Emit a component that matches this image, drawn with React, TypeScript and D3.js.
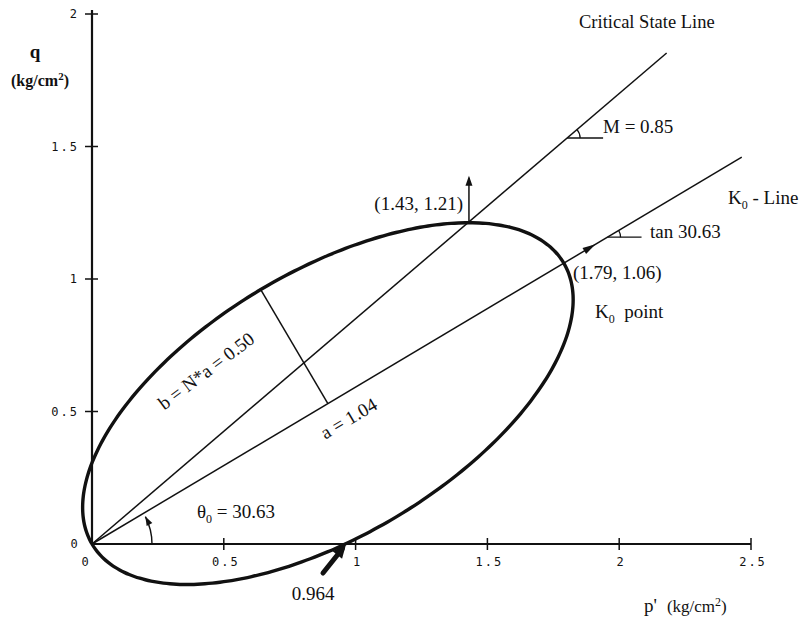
import React from "react";
import * as d3 from "d3";

// values
const xTicks = [0, 0.5, 1, 1.5, 2, 2.5];
const yTicks = [0.5, 1, 1.5, 2];
const theta0 = 30.63; // K0 line angle (deg)
const semiA = 1.04;
const semiB = 0.5;
const slopeM = 0.85;
const topPoint = [1.43, 1.21];
const k0Point = [1.79, 1.06];
const pCross = 0.964;
const cslEnd = 2.18; // p' where CSL stops
const k0End = 2.465; // p' where K0 line stops
const topArrowQ = 1.39;
const k0ArrowP = 1.91;
const cslMarkQ = 1.532;
const k0MarkQ = 1.158;

const W = 800;
const H = 623;

const App = () => {
  const x = d3.scaleLinear().domain([0, 2.5]).range([92, 751]);
  const y = d3.scaleLinear().domain([0, 2]).range([544, 14]);

  const th = (theta0 * Math.PI) / 180;
  const tanT = Math.tan(th);
  const cx = semiA * Math.cos(th);
  const cy = semiA * Math.sin(th);

  // ellipse through the origin, major axis along the K0 line
  const ellPts = d3.range(0, 360, 2).map((deg) => {
    const t = (deg * Math.PI) / 180;
    const u = semiA + semiA * Math.cos(t);
    const v = semiB * Math.sin(t);
    return [u * Math.cos(th) - v * Math.sin(th), u * Math.sin(th) + v * Math.cos(th)];
  });
  const ellLine = d3
    .line()
    .x((d) => x(d[0]))
    .y((d) => y(d[1]))
    .curve(d3.curveCardinalClosed);

  // end of the minor axis
  const bEnd = [cx - semiB * Math.sin(th), cy + semiB * Math.cos(th)];

  const angleArc = (px, py, ang, r) =>
    `M${px + r},${py} A${r},${r} 0 0 0 ${px + r * Math.cos(ang)},${py - r * Math.sin(ang)}`;

  // arrowhead triangle, tip at (tx,ty), pointing along ang (screen coords)
  const head = (tx, ty, ang, len, wid) => {
    const bx = tx - len * Math.cos(ang);
    const by = ty - len * Math.sin(ang);
    const nx = -Math.sin(ang) * wid;
    const ny = Math.cos(ang) * wid;
    return `M${tx},${ty} L${bx + nx},${by + ny} L${bx - nx},${by - ny} Z`;
  };

  // theta0 arc
  const r0 = 60;
  const ox = x(0);
  const oy = y(0);
  const arcEndAng = th - 0.06;
  const ae = [ox + r0 * Math.cos(arcEndAng), oy - r0 * Math.sin(arcEndAng)];
  const arcTangentAng = -(arcEndAng + Math.PI / 2);

  const k0a = [x(k0ArrowP), y(k0ArrowP * tanT)];
  const k0ScreenAng = Math.atan2(y(tanT) - y(0), x(1) - x(0));

  const crossX = x(pCross);
  const thickStart = [323, 573];
  const thickAng = Math.atan2(y(0) - thickStart[1], crossX - thickStart[0]);

  const serif = "'Liberation Serif', 'Times New Roman', serif";
  const tickFont = "'DejaVu Sans Mono', monospace";
  const fs = 19;

  return (
    <svg
      width={W}
      height={H}
      style={{ position: "absolute", left: 0, top: 0, background: "#fff" }}
    >
      {/* axes */}
      <line x1={x(0)} y1={y(0)} x2={x(0)} y2={y(2) - 4} stroke="#111" strokeWidth={2.2} />
      <line x1={x(0)} y1={y(0)} x2={x(2.5)} y2={y(0)} stroke="#111" strokeWidth={2.2} />
      {yTicks.map((t) => (
        <g key={"y" + t}>
          <line x1={x(0) - 7} x2={x(0) + 6} y1={y(t)} y2={y(t)} stroke="#111" strokeWidth={1.5} />
          <text
            x={x(0) - 13}
            y={y(t) + 4}
            textAnchor="end"
            fontFamily={tickFont}
            fontSize={12}
            letterSpacing={2}
            fill="#111"
          >
            {String(t)}
          </text>
        </g>
      ))}
      <text x={74} y={y(0) + 4} textAnchor="middle" fontFamily={tickFont} fontSize={12} fill="#111">0</text>
      {xTicks.map((t) => (
        <g key={"x" + t}>
          {t > 0 && (
            <line x1={x(t)} x2={x(t)} y1={y(0) - 6} y2={y(0) + 6} stroke="#111" strokeWidth={1.5} />
          )}
          <text
            x={t === 0 ? x(0) - 6 : x(t) + 2}
            y={y(0) + 22}
            textAnchor="middle"
            fontFamily={tickFont}
            fontSize={12}
            letterSpacing={2}
            fill="#111"
          >
            {String(t)}
          </text>
        </g>
      ))}

      {/* axis titles */}
      <text x={35} y={58} textAnchor="middle" fontFamily={serif} fontSize={19} fontWeight="bold" fill="#111">q</text>
      <text x={40} y={86} textAnchor="middle" fontFamily={serif} fontSize={16} fontWeight="bold" fill="#111">
        (kg/cm<tspan dy={-6} fontSize={11}>2</tspan><tspan dy={6}>)</tspan>
      </text>
      <text x={644} y={612} fontFamily={serif} fontSize={19} fill="#111">
        p'
        <tspan fontSize={17} dx={10}>(kg/cm</tspan>
        <tspan dy={-6} fontSize={12}>2</tspan>
        <tspan dy={6} fontSize={17}>)</tspan>
      </text>

      {/* critical state line and K0 line */}
      <line x1={x(0)} y1={y(0)} x2={x(cslEnd)} y2={y(cslEnd * slopeM)} stroke="#111" strokeWidth={1.5} />
      <line x1={x(0)} y1={y(0)} x2={x(k0End)} y2={y(k0End * tanT)} stroke="#111" strokeWidth={1.5} />
      <path d={head(k0a[0], k0a[1], k0ScreenAng, 13, 3.5)} fill="#111" />

      {/* minor axis b */}
      <line x1={x(cx)} y1={y(cy)} x2={x(bEnd[0])} y2={y(bEnd[1])} stroke="#111" strokeWidth={1.5} />

      {/* yield ellipse */}
      <path d={ellLine(ellPts)} fill="none" stroke="#111" strokeWidth={3.4} />

      {/* vertical arrow at top point */}
      <line x1={x(topPoint[0])} y1={y(topPoint[1])} x2={x(topPoint[0])} y2={y(topArrowQ) + 2} stroke="#111" strokeWidth={1.5} />
      <path d={head(x(topPoint[0]), y(topArrowQ), -Math.PI / 2, 10, 3.5)} fill="#111" />

      {/* M angle mark */}
      <line x1={x(cslMarkQ / slopeM)} y1={y(cslMarkQ)} x2={x(cslMarkQ / slopeM) + 36} y2={y(cslMarkQ)} stroke="#111" strokeWidth={1.3} />
      <path d={angleArc(x(cslMarkQ / slopeM), y(cslMarkQ), Math.atan(slopeM), 13)} fill="none" stroke="#111" strokeWidth={1.3} />
      {/* K0 angle mark */}
      <line x1={x(k0MarkQ / tanT)} y1={y(k0MarkQ)} x2={x(k0MarkQ / tanT) + 34} y2={y(k0MarkQ)} stroke="#111" strokeWidth={1.3} />
      <path d={angleArc(x(k0MarkQ / tanT), y(k0MarkQ), th, 13)} fill="none" stroke="#111" strokeWidth={1.3} />

      {/* theta0 arc */}
      <path
        d={`M${ox + r0},${oy} A${r0},${r0} 0 0 0 ${ae[0]},${ae[1]}`}
        fill="none"
        stroke="#111"
        strokeWidth={1.4}
      />
      <path d={head(ae[0], ae[1], arcTangentAng, 9, 3.2)} fill="#111" />

      {/* 0.964 thick arrow */}
      <line
        x1={thickStart[0]}
        y1={thickStart[1]}
        x2={crossX - 6 * Math.cos(thickAng)}
        y2={y(0) - 6 * Math.sin(thickAng)}
        stroke="#111"
        strokeWidth={5}
        strokeLinecap="round"
      />
      <path d={head(crossX, y(0), thickAng, 14, 6)} fill="#111" />

      {/* labels */}
      <text x={579} y={28} fontFamily={serif} fontSize={18.5} fill="#111">Critical State Line</text>
      <text x={603} y={133} fontFamily={serif} fontSize={fs} fill="#111">M = 0.85</text>
      <text x={728} y={204} fontFamily={serif} fontSize={fs} fill="#111">
        K<tspan dy={5} fontSize={12}>0</tspan><tspan dy={-5}> - Line</tspan>
      </text>
      <text x={650} y={238} fontFamily={serif} fontSize={fs} fill="#111">tan 30.63</text>
      <text x={463} y={210} textAnchor="end" fontFamily={serif} fontSize={fs} fill="#111">
        ({topPoint[0].toFixed(2)}, {topPoint[1].toFixed(2)})
      </text>
      <text x={573} y={279} fontFamily={serif} fontSize={fs} fill="#111">
        ({k0Point[0].toFixed(2)}, {k0Point[1].toFixed(2)})
      </text>
      <text x={595} y={318} fontFamily={serif} fontSize={fs} fill="#111" style={{ whiteSpace: "pre" }}>
        K<tspan dy={5} fontSize={12}>0</tspan><tspan dy={-5}>{"  point"}</tspan>
      </text>
      <text
        transform={`translate(210,376) rotate(-37)`}
        textAnchor="middle"
        fontFamily={serif}
        fontSize={fs}
        fill="#111"
      >
        {`b = N*a = ${semiB.toFixed(2)}`}
      </text>
      <text
        transform={`translate(352,424) rotate(${-theta0})`}
        textAnchor="middle"
        fontFamily={serif}
        fontSize={fs}
        fill="#111"
      >
        {`a = ${semiA.toFixed(2)}`}
      </text>
      <text x={197} y={518} fontFamily={serif} fontSize={fs} fill="#111">
        θ<tspan dy={5} fontSize={12}>0</tspan><tspan dy={-5}>{` = ${theta0}`}</tspan>
      </text>
      <text x={313} y={600} textAnchor="middle" fontFamily={serif} fontSize={fs} fill="#111">
        {pCross}
      </text>
    </svg>
  );
};

export default App;
